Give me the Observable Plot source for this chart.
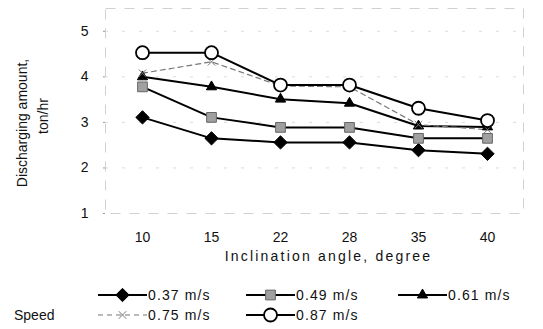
<!DOCTYPE html>
<html><head><meta charset="utf-8">
<script src="https://cdn.jsdelivr.net/npm/d3@7"></script>
<script src="https://cdn.jsdelivr.net/npm/@observablehq/plot@0.6"></script>
<style>
body{margin:0;background:#fff;font-family:"Liberation Sans",Arial,sans-serif;}
#wrap{position:relative;width:543px;height:329px;overflow:hidden;}
.leg{position:absolute;display:flex;align-items:center;font-size:14px;color:#111;height:16px;line-height:16px;white-space:nowrap;}
.leg svg{display:block;}
</style></head><body>
<div id="wrap"><div id="chart"></div></div>
<script>
const angles = ["10", "15", "22", "28", "35", "40"];
const speeds = ["0.37 m/s", "0.49 m/s", "0.61 m/s", "0.75 m/s", "0.87 m/s"];
const s037 = [3.11, 2.65, 2.56, 2.56, 2.39, 2.31];
const s049 = [3.78, 3.11, 2.89, 2.89, 2.65, 2.65];
const s061 = [4.00, 3.78, 3.51, 3.42, 2.92, 2.90];
const s075 = [4.08, 4.33, 3.80, 3.78, 2.95, 2.84];
const s087 = [4.53, 4.53, 3.82, 3.82, 3.31, 3.04];
const yTicks = [1, 2, 3, 4, 5];
const xTitle = "Inclination angle, degree";
const yTitle1 = "Discharging amount,";
const yTitle2 = "ton/hr";
const legendTitle = "Speed";

const seriesValues = [s037, s049, s061, s075, s087];
const styles = [
  {stroke: "#000", width: 2, dash: null, symbol: "diamond2", fill: "#000", mstroke: "#000", r: 6},
  {stroke: "#000", width: 2, dash: null, symbol: "square", fill: "#a0a0a0", mstroke: "#666", r: 5.5},
  {stroke: "#000", width: 2, dash: null, symbol: "triangle", fill: "#000", mstroke: "#000", r: 3.8},
  {stroke: "#777", width: 1.2, dash: "5,4", symbol: "times", fill: "none", mstroke: "#777", r: 3.5},
  {stroke: "#000", width: 2, dash: null, symbol: "circle", fill: "#fff", mstroke: "#000", r: 6.5}
];
const data = speeds.flatMap((s, i) => angles.map((a, j) => ({speed: s, angle: a, value: seriesValues[i][j]})));

const marks = [
  Plot.frame({stroke: "#c4c4c4", strokeWidth: 0.8, strokeDasharray: "10,9"}),
  Plot.gridY(yTicks.slice(1), {stroke: "#ccc", strokeOpacity: 1, strokeWidth: 0.7, strokeDasharray: "3,14"})
];
speeds.forEach((s, i) => {
  const st = styles[i];
  marks.push(Plot.line(data.filter(d => d.speed === s), {x: "angle", y: "value", stroke: st.stroke, strokeWidth: st.width, strokeDasharray: st.dash}));
});
speeds.forEach((s, i) => {
  const st = styles[i];
  marks.push(Plot.dot(data.filter(d => d.speed === s), {x: "angle", y: "value", symbol: st.symbol, r: st.r, fill: st.fill, stroke: st.mstroke, strokeWidth: st.symbol === "circle" ? 1.8 : 1}));
});
marks.push(
  Plot.axisX({tickSize: 0, tickPadding: 19, fontSize: 14, label: null}),
  Plot.axisY(yTicks, {tickSize: 2, tickPadding: 15, stroke: "#999", fontSize: 14, label: null}),
  Plot.text([xTitle], {frameAnchor: "bottom", textAnchor: "middle", lineAnchor: "middle", dx: 14, dy: 43, fontSize: 14, fill: "#111"}),
  Plot.text([yTitle1], {frameAnchor: "left", textAnchor: "middle", lineAnchor: "middle", rotate: -90, dx: -83, dy: 12, fontSize: 14, fill: "#111"}),
  Plot.text([yTitle2], {frameAnchor: "left", textAnchor: "middle", lineAnchor: "middle", rotate: -90, dx: -62, dy: 5, fontSize: 14, fill: "#111"})
);

const chart = Plot.plot({
  width: 543, height: 275,
  marginLeft: 105, marginRight: 20, marginTop: 8, marginBottom: 62,
  style: {fontFamily: "'Liberation Sans', Arial, sans-serif", color: "#111", background: "#fff"},
  x: {type: "point", domain: angles, padding: 0.5},
  y: {domain: [1, 5.5]},
  marks
});
d3.select(chart).selectAll("text").filter(function () { return this.textContent === xTitle; })
  .style("letter-spacing", "2.2px");
document.getElementById("chart").appendChild(chart);

// legend (HTML below the SVG)
const wrap = document.getElementById("wrap");
const symMap = {diamond2: d3.symbolDiamond2, square: d3.symbolSquare, triangle: d3.symbolTriangle, times: d3.symbolTimes, circle: d3.symbolCircle};
const legPos = [[98, 287], [246, 287], [398, 287], [98, 307], [246, 307]];
speeds.forEach((s, i) => {
  const st = styles[i];
  const div = document.createElement("div");
  div.className = "leg";
  div.style.left = legPos[i][0] + "px";
  div.style.top = legPos[i][1] + "px";
  const w = 49, h = 16;
  const svg = d3.create("svg").attr("width", w).attr("height", h);
  svg.append("line").attr("x1", 0).attr("x2", w).attr("y1", h / 2).attr("y2", h / 2)
    .attr("stroke", st.stroke).attr("stroke-width", st.width).attr("stroke-dasharray", st.dash);
  svg.append("path").attr("d", d3.symbol(symMap[st.symbol], Math.PI * st.r * st.r)())
    .attr("transform", `translate(${w / 2},${h / 2})`)
    .attr("fill", st.fill).attr("stroke", st.mstroke).attr("stroke-width", st.symbol === "circle" ? 1.8 : 1);
  div.appendChild(svg.node());
  const t = document.createElement("span");
  t.textContent = s;
  t.style.marginLeft = "1px";
  t.style.letterSpacing = "1.1px";
  div.appendChild(t);
  wrap.appendChild(div);
});
const sp = document.createElement("div");
sp.className = "leg";
sp.style.left = "14px"; sp.style.top = "307px";
sp.textContent = legendTitle;
wrap.appendChild(sp);
</script>
</body></html>
